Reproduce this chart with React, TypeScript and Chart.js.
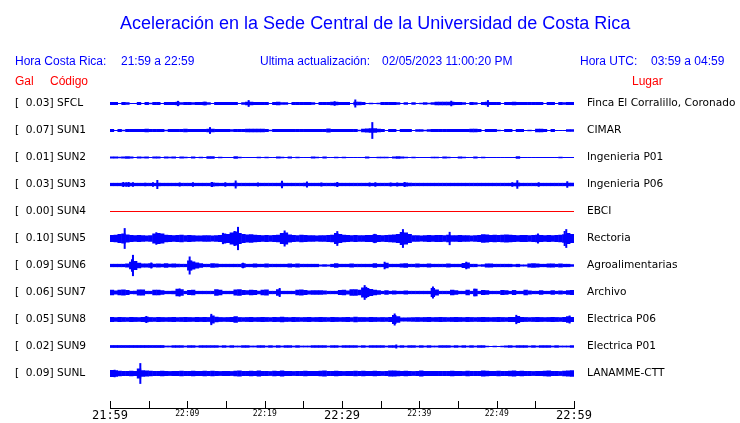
import React, { useEffect, useRef } from 'react';
import { Chart, registerables } from 'chart.js';

Chart.register(...registerables);

// ---------------- DATA ----------------
const TITLE = 'Aceleración en la Sede Central de la Universidad de Costa Rica';
const HORA_CR_LABEL = 'Hora Costa Rica:';
const HORA_CR_RANGE = '21:59 a 22:59';
const UPDATE_LABEL = 'Ultima actualización:';
const UPDATE_VALUE = '02/05/2023 11:00:20 PM';
const UTC_LABEL = 'Hora UTC:';
const UTC_RANGE = '03:59 a 04:59';

const CODES = ['SFCL', 'SUN1', 'SUN2', 'SUN3', 'SUN4', 'SUN5', 'SUN6', 'SUN7', 'SUN8', 'SUN9', 'SUNL'];
const GAL = [0.03, 0.07, 0.01, 0.03, 0.0, 0.1, 0.09, 0.06, 0.05, 0.02, 0.09];
const PLACES = [
  'Finca El Corralillo, Coronado', 'CIMAR', 'Ingenieria P01', 'Ingenieria P06', 'EBCI', 'Rectoria',
  'Agroalimentarias', 'Archivo', 'Electrica P06', 'Electrica P01', 'LANAMME-CTT',
];

// time axis: minutes after 21:59
const TICK_MINUTES = [0, 5, 10, 15, 20, 25, 30, 35, 40, 45, 50, 55, 60];
const TICK_LABELS = ['21:59', '', '22:09', '', '22:19', '', '22:29', '', '22:39', '', '22:49', '', '22:59'];
const MAJOR_LABELS = ['21:59', '22:29', '22:59'];
const BIN_MINUTES = 0.5; // each amplitude value = max |a| in a 30 s window

// amplitudes in mGal, one value per 30 s window (120 windows)
const SFCL_AMP = [
  12, 12, 4, 12, 10, 4, 4, 12, 4, 12, 6, 12, 12, 4, 12, 12, 12, 14, 10, 12,
  12, 10, 12, 12, 14, 10, 4, 12, 12, 12, 12, 12, 12, 4, 10, 14, 14, 12, 12, 12,
  12, 4, 12, 14, 10, 10, 4, 12, 12, 12, 12, 12, 10, 4, 12, 12, 12, 14, 14, 12,
  12, 12, 4, 14, 14, 12, 4, 6, 4, 6, 12, 12, 12, 12, 10, 4, 10, 4, 10, 4,
  6, 10, 6, 10, 14, 14, 14, 14, 14, 12, 12, 10, 4, 12, 10, 4, 12, 14, 12, 12,
  12, 4, 12, 12, 14, 12, 12, 12, 12, 12, 12, 12, 4, 12, 12, 4, 12, 10, 12, 12,
];
const SUN1_AMP = [
  12, 4, 12, 6, 12, 12, 12, 12, 12, 14, 12, 12, 12, 12, 6, 12, 12, 12, 12, 14,
  12, 12, 12, 12, 12, 14, 14, 12, 12, 12, 12, 10, 12, 12, 12, 14, 14, 14, 14, 14,
  12, 6, 12, 12, 12, 12, 12, 12, 12, 12, 12, 12, 12, 12, 12, 12, 16, 12, 12, 12,
  12, 12, 12, 12, 6, 14, 16, 18, 18, 14, 12, 4, 12, 12, 4, 12, 12, 12, 4, 10,
  10, 6, 10, 12, 12, 12, 12, 12, 12, 12, 12, 12, 12, 14, 14, 12, 4, 12, 12, 12,
  6, 4, 12, 12, 4, 12, 12, 4, 6, 4, 14, 14, 12, 4, 12, 4, 4, 4, 10, 10,
];
const SUN2_AMP = [
  8, 8, 6, 8, 10, 8, 4, 8, 6, 8, 4, 8, 8, 4, 8, 6, 8, 4, 8, 6,
  4, 8, 4, 6, 4, 10, 10, 4, 6, 4, 4, 4, 10, 6, 4, 4, 4, 4, 6, 4,
  6, 4, 4, 8, 6, 4, 8, 4, 6, 4, 4, 4, 8, 6, 4, 8, 4, 4, 6, 4,
  6, 4, 4, 4, 4, 4, 8, 4, 4, 6, 6, 6, 4, 8, 10, 8, 6, 4, 6, 4,
  4, 4, 4, 6, 6, 4, 8, 6, 4, 4, 8, 6, 4, 4, 8, 4, 6, 4, 4, 4,
  4, 4, 4, 4, 4, 10, 4, 4, 4, 4, 4, 4, 4, 4, 4, 4, 6, 4, 4, 4,
];
const SUN3_AMP = [
  13, 13, 13, 14, 14, 14, 13, 13, 13, 13, 13, 13, 14, 13, 13, 13, 13, 13, 13, 13,
  13, 13, 13, 13, 13, 13, 16, 14, 13, 13, 13, 13, 14, 13, 13, 13, 13, 13, 13, 13,
  13, 13, 13, 13, 14, 13, 13, 13, 13, 13, 14, 13, 13, 13, 13, 13, 13, 13, 14, 13,
  13, 13, 13, 13, 13, 13, 13, 13, 13, 13, 13, 13, 13, 13, 13, 13, 16, 14, 13, 13,
  13, 13, 13, 13, 13, 13, 13, 13, 13, 13, 13, 13, 13, 13, 13, 13, 13, 13, 13, 13,
  13, 13, 13, 13, 14, 15, 13, 13, 13, 13, 13, 13, 13, 13, 13, 13, 13, 13, 14, 14,
];
const SUN4_AMP: number[] = []; // flat record (0.00 Gal)
const SUN5_AMP = [
  28, 30, 36, 40, 32, 28, 26, 28, 26, 24, 26, 40, 44, 40, 30, 28, 26, 28, 30, 26,
  28, 26, 24, 24, 26, 26, 24, 26, 28, 40, 36, 48, 56, 44, 36, 32, 34, 30, 28, 26,
  28, 26, 28, 30, 44, 48, 32, 28, 26, 30, 28, 26, 26, 24, 26, 26, 28, 30, 44, 36,
  30, 28, 26, 28, 26, 26, 28, 28, 34, 28, 26, 28, 30, 32, 36, 52, 48, 36, 26, 26,
  24, 26, 28, 26, 28, 28, 26, 30, 26, 26, 28, 26, 26, 24, 26, 28, 34, 32, 28, 30,
  28, 30, 32, 30, 28, 26, 28, 28, 26, 28, 30, 28, 26, 28, 26, 28, 30, 34, 44, 36,
];
const SUN6_AMP = [
  13, 13, 13, 13, 16, 30, 36, 22, 16, 16, 18, 14, 16, 14, 18, 14, 16, 14, 13, 13,
  40, 32, 24, 18, 13, 13, 18, 16, 13, 13, 13, 13, 13, 13, 18, 13, 13, 16, 13, 13,
  16, 13, 13, 13, 13, 13, 16, 13, 16, 13, 13, 13, 13, 13, 8, 10, 8, 13, 18, 13,
  13, 13, 16, 13, 13, 13, 13, 13, 18, 13, 13, 22, 13, 13, 13, 16, 18, 13, 13, 16,
  13, 13, 16, 13, 13, 13, 13, 16, 13, 13, 13, 20, 24, 13, 13, 8, 10, 16, 16, 13,
  13, 13, 13, 13, 10, 13, 8, 8, 16, 18, 16, 13, 13, 16, 16, 13, 16, 13, 13, 10,
];
const SUN7_AMP = [
  22, 16, 22, 24, 20, 13, 14, 24, 24, 13, 13, 22, 22, 18, 13, 13, 14, 30, 26, 13,
  20, 22, 13, 13, 13, 13, 13, 26, 22, 13, 13, 13, 24, 26, 20, 18, 22, 20, 14, 22,
  24, 13, 13, 26, 13, 13, 13, 13, 22, 24, 20, 16, 18, 18, 18, 16, 13, 13, 13, 20,
  22, 16, 26, 26, 22, 40, 36, 28, 22, 18, 13, 18, 13, 16, 13, 13, 16, 13, 13, 13,
  13, 13, 13, 36, 24, 13, 13, 13, 22, 18, 13, 13, 22, 13, 30, 13, 20, 18, 13, 13,
  13, 20, 18, 13, 20, 13, 13, 22, 16, 13, 13, 18, 13, 13, 18, 13, 16, 13, 18, 20,
];
const SUN8_AMP = [
  20, 18, 20, 19, 18, 20, 19, 18, 20, 22, 19, 18, 20, 19, 18, 19, 20, 18, 19, 20,
  19, 18, 20, 19, 20, 19, 32, 22, 19, 18, 19, 20, 26, 19, 18, 19, 20, 18, 19, 20,
  19, 18, 20, 19, 22, 19, 18, 20, 19, 18, 19, 20, 18, 19, 20, 19, 18, 20, 19, 18,
  19, 20, 18, 22, 19, 19, 18, 20, 19, 18, 19, 18, 20, 36, 26, 16, 16, 17, 18, 19,
  18, 19, 20, 18, 19, 20, 19, 18, 19, 20, 19, 18, 20, 19, 18, 19, 20, 19, 18, 19,
  20, 19, 18, 20, 20, 28, 20, 19, 18, 19, 20, 19, 18, 19, 20, 19, 18, 20, 26, 20,
];
const SUN9_AMP = [
  11, 11, 11, 11, 11, 11, 11, 11, 11, 11, 11, 11, 11, 11, 7, 7, 10, 10, 10, 7,
  10, 10, 7, 10, 10, 10, 10, 10, 7, 10, 7, 10, 7, 7, 10, 10, 7, 7, 10, 10,
  7, 10, 7, 10, 7, 10, 10, 7, 10, 7, 7, 7, 10, 10, 10, 10, 7, 10, 10, 7,
  10, 10, 10, 10, 7, 10, 7, 10, 10, 10, 10, 7, 10, 10, 7, 10, 7, 10, 10, 7,
  10, 7, 10, 7, 7, 10, 10, 10, 7, 10, 7, 10, 7, 10, 7, 10, 10, 6, 4, 6,
  4, 6, 8, 10, 7, 10, 10, 10, 7, 10, 7, 10, 10, 10, 7, 10, 7, 7, 7, 10,
];
const SUNL_AMP = [
  28, 26, 22, 20, 20, 22, 20, 40, 26, 24, 22, 20, 20, 22, 20, 19, 20, 20, 22, 20,
  20, 22, 20, 20, 22, 20, 22, 20, 19, 20, 20, 19, 22, 24, 20, 20, 22, 20, 24, 20,
  20, 19, 22, 20, 24, 20, 20, 19, 20, 20, 22, 20, 20, 20, 22, 24, 20, 20, 22, 20,
  19, 20, 20, 22, 20, 22, 20, 20, 22, 20, 19, 20, 24, 24, 22, 20, 22, 20, 19, 20,
  24, 20, 20, 20, 20, 20, 20, 20, 22, 20, 20, 19, 22, 20, 20, 20, 24, 22, 20, 20,
  22, 20, 20, 22, 24, 20, 22, 20, 20, 19, 20, 20, 22, 24, 20, 20, 19, 22, 24, 26,
];

// short, sharp peaks: [minute, amplitude mGal]
const SFCL_PEAKS = [[8.79, 21], [12.24, 14], [17.93, 27], [29.05, 18], [31.72, 32], [44.13, 22], [48.87, 27]];
const SUN1_PEAKS = [[12.93, 27], [33.92, 67]];
const SUN2_PEAKS: number[][] = [];
const SUN3_PEAKS = [
  [1.72, 20], [2.11, 18], [2.41, 20], [2.97, 18], [4.57, 14], [5.56, 18], [6.12, 36], [9.01, 16],
  [10.73, 18], [13.19, 20], [14.91, 18], [16.25, 32], [19.14, 16], [22.24, 30], [25.47, 24],
  [27.33, 16], [29.39, 20], [33.57, 16], [34.31, 18], [36.29, 16], [37.15, 16], [38.1, 20],
  [52.02, 18], [52.67, 34], [55.43, 18], [59.13, 26],
];
const SUN4_PEAKS: number[][] = [];
const SUN5_PEAKS = [
  [1.9, 83], [5.99, 50], [14.61, 45], [16.12, 60], [16.55, 93], [22.58, 64], [29.39, 59],
  [34.22, 37], [37.88, 75], [43.92, 53], [55.34, 40], [58.79, 60], [59.0, 75],
];
const SUN6_PEAKS = [[2.84, 50], [2.97, 85], [5.34, 24], [10.3, 72], [10.52, 40], [17.2, 22], [35.51, 30], [46.07, 30]];
const SUN7_PEAKS = [[9.01, 32], [21.94, 36], [32.93, 59], [33.14, 45], [41.76, 48], [47.15, 30]];
const SUN8_PEAKS = [[4.7, 28], [13.1, 45], [36.81, 48], [52.54, 37], [59.43, 32]];
const SUN9_PEAKS = [[37.02, 16]];
const SUNL_PEAKS = [[0.6, 30], [3.92, 83]];

const AMPS = [SFCL_AMP, SUN1_AMP, SUN2_AMP, SUN3_AMP, SUN4_AMP, SUN5_AMP, SUN6_AMP, SUN7_AMP, SUN8_AMP, SUN9_AMP, SUNL_AMP];
const PEAKS = [SFCL_PEAKS, SUN1_PEAKS, SUN2_PEAKS, SUN3_PEAKS, SUN4_PEAKS, SUN5_PEAKS, SUN6_PEAKS, SUN7_PEAKS, SUN8_PEAKS, SUN9_PEAKS, SUNL_PEAKS];

// ---------------- LAYOUT / STYLE ----------------
const W = 740;
const H = 423;
const AREA_LEFT = 110;
const AREA_RIGHT = 574;
const AREA_TOP = 88;
const AREA_BOTTOM = 408;
const FIRST_CENTER = 103.5;
const ROW_PX = 27;
const PX_PER_MGAL = 0.125;
const GAIN = PX_PER_MGAL / ROW_PX;
const BLUE = '#0000ff';
const RED = '#ff0000';
const SANS = "'Liberation Sans', Arial, sans-serif";
const DEJAVU = "'DejaVu Sans', sans-serif";
const MONO = "'DejaVu Sans Mono', monospace";
const LABEL_SIZE = 10.6;

const leftLabel = (i: number) => `[${GAL[i].toFixed(2).padStart(6, ' ')}] ${CODES[i]}`;

const zeroPad = (scale: any) => {
  scale.paddingTop = 0;
  scale.paddingBottom = 0;
  scale.paddingLeft = 0;
  scale.paddingRight = 0;
};

const tickMarks = {
  id: 'tickMarks',
  afterDraw(chart: any) {
    const sx = chart.scales.x;
    const ctx = chart.ctx;
    const bottom = chart.chartArea.bottom;
    ctx.save();
    ctx.strokeStyle = '#000';
    ctx.lineWidth = 1;
    TICK_MINUTES.forEach((m) => {
      const px = Math.round(sx.getPixelForValue(m)) + 0.5;
      ctx.beginPath();
      ctx.moveTo(px, bottom + 1);
      ctx.lineTo(px, bottom - 7);
      ctx.stroke();
    });
    ctx.restore();
  },
};

export default function App() {
  const ref = useRef<HTMLCanvasElement>(null);

  useEffect(() => {
    if (!ref.current) return;
    const datasets: any[] = [];
    CODES.forEach((code, i) => {
      if (AMPS[i].length === 0) {
        datasets.push({
          type: 'line',
          label: code,
          data: [{ x: TICK_MINUTES[0], y: i }, { x: TICK_MINUTES[TICK_MINUTES.length - 1], y: i }],
          borderColor: RED,
          borderWidth: 1,
          pointRadius: 0,
          fill: false,
        });
        return;
      }
      datasets.push({
        type: 'bar',
        label: code,
        data: AMPS[i].map((a, k) => ({ x: (k + 0.5) * BIN_MINUTES, y: [i - a * GAIN, i + a * GAIN] })),
        backgroundColor: BLUE,
        borderWidth: 0,
        barThickness: 4.4,
        grouped: false,
        inflateAmount: 0,
      });
      if (PEAKS[i].length) {
        datasets.push({
          type: 'bar',
          label: code + ' peaks',
          data: PEAKS[i].map(([t, a]) => ({ x: t, y: [i - a * GAIN, i + a * GAIN] })),
          backgroundColor: BLUE,
          borderWidth: 0,
          barThickness: 2,
          grouped: false,
          inflateAmount: 0,
        });
      }
    });

    const yMin = -(FIRST_CENTER - AREA_TOP) / ROW_PX;
    const yMax = (AREA_BOTTOM - FIRST_CENTER) / ROW_PX;
    const rowTicks = (scale: any) => {
      scale.ticks = CODES.map((_, i) => ({ value: i }));
    };

    const chart = new Chart(ref.current, {
      type: 'bar',
      data: { datasets },
      options: {
        responsive: false,
        animation: false,
        devicePixelRatio: 1,
        layout: { padding: { left: 15, right: 0, top: AREA_TOP, bottom: 0 } },
        plugins: { legend: { display: false }, tooltip: { enabled: false }, title: { display: false } },
        scales: {
          x: {
            type: 'linear',
            min: TICK_MINUTES[0],
            max: TICK_MINUTES[TICK_MINUTES.length - 1],
            offset: false,
            position: 'bottom',
            grid: { display: false, offset: false, drawTicks: false },
            border: { display: true, color: '#000', width: 1 },
            afterBuildTicks: (scale: any) => {
              scale.ticks = TICK_MINUTES.map((v) => ({ value: v }));
            },
            afterFit: (scale: any) => {
              zeroPad(scale);
              scale.height = H - AREA_BOTTOM;
            },
            ticks: {
              autoSkip: false,
              maxRotation: 0,
              padding: 1,
              color: '#000',
              callback: (v: any) => TICK_LABELS[TICK_MINUTES.indexOf(Number(v))] ?? '',
              font: (ctx: any) => {
                const lab = TICK_LABELS[TICK_MINUTES.indexOf(ctx.tick?.value)];
                return MAJOR_LABELS.includes(lab)
                  ? { family: MONO, size: 12 }
                  : { family: MONO, size: 8 };
              },
            },
          },
          y: {
            type: 'linear',
            position: 'left',
            reverse: true,
            min: yMin,
            max: yMax,
            grid: { display: false, drawTicks: false },
            border: { display: false },
            afterBuildTicks: rowTicks,
            afterFit: (scale: any) => {
              zeroPad(scale);
              scale.width = AREA_LEFT - 15;
            },
            ticks: {
              autoSkip: false,
              crossAlign: 'far',
              padding: 0,
              color: '#000',
              font: { family: DEJAVU, size: LABEL_SIZE },
              callback: (v: any) => leftLabel(Number(v)),
            },
          },
          y2: {
            type: 'linear',
            position: 'right',
            reverse: true,
            min: yMin,
            max: yMax,
            grid: { display: false, drawTicks: false },
            border: { display: false },
            afterBuildTicks: rowTicks,
            afterFit: (scale: any) => {
              zeroPad(scale);
              scale.width = W - AREA_RIGHT;
            },
            ticks: {
              autoSkip: false,
              padding: 13,
              color: '#000',
              font: { family: DEJAVU, size: LABEL_SIZE },
              callback: (v: any) => PLACES[Number(v)],
            },
          },
        },
      } as any,
      plugins: [tickMarks],
    });
    return () => chart.destroy();
  }, []);

  const txt = (left: number, top: number, size: number, color: string, s: string) => (
    <div
      style={{
        position: 'absolute', left, top, fontFamily: SANS, fontSize: size, lineHeight: 1,
        color, whiteSpace: 'pre',
      }}
    >
      {s}
    </div>
  );

  return (
    <div style={{ position: 'fixed', left: 0, top: 0, width: W, height: H, background: '#fff', overflow: 'hidden' }}>
      <canvas ref={ref} width={W} height={H} style={{ position: 'absolute', left: 0, top: 0, display: 'block' }} />
      {txt(120, 14, 18, BLUE, TITLE)}
      {txt(15, 55, 12, BLUE, HORA_CR_LABEL)}
      {txt(121, 55, 12, BLUE, HORA_CR_RANGE)}
      {txt(260, 55, 12, BLUE, UPDATE_LABEL)}
      {txt(382, 55, 12, BLUE, UPDATE_VALUE)}
      {txt(580, 55, 12, BLUE, UTC_LABEL)}
      {txt(651, 55, 12, BLUE, UTC_RANGE)}
      {txt(15, 75, 12, RED, 'Gal')}
      {txt(50, 75, 12, RED, 'Código')}
      {txt(632, 75, 12, RED, 'Lugar')}
    </div>
  );
}
